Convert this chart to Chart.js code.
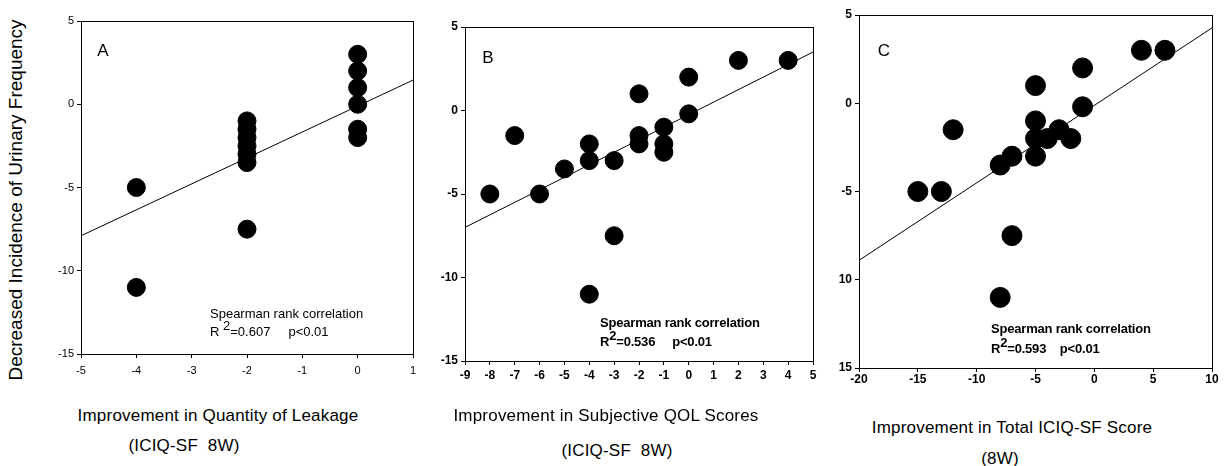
<!DOCTYPE html>
<html>
<head>
<meta charset="utf-8">
<script src="https://cdn.jsdelivr.net/npm/chart.js@4/dist/chart.umd.min.js"></script>
<style>
  body { margin: 0; background: #fff; width: 1224px; height: 466px; position: relative; overflow: hidden; font-family: "Liberation Sans", Arial, sans-serif; color: #000; }
  .panel { position: absolute; }
  .t { position: absolute; white-space: nowrap; line-height: 1; }
  .c { transform: translate(-50%, -50%); }
  .l { transform: translateY(-50%); }
  .title { font-size: 17px; letter-spacing: 0.2px; }
  .note { font-size: 13px; }
  .note sup { font-size: 13px; vertical-align: 6px; line-height: 0; }
  .b { font-weight: bold; letter-spacing: -0.2px; }
</style>
</head>
<body>

<div class="panel" id="pa"><canvas id="chartA"></canvas></div>
<div class="panel" id="pb"><canvas id="chartB"></canvas></div>
<div class="panel" id="pc"><canvas id="chartC"></canvas></div>

<div class="t" style="left:15px; top:200px; font-size:19px; transform:translate(-50%,-50%) rotate(-90deg);">Decreased Incidence of Urinary Frequency</div>

<div class="t c" style="left:103px; top:50px; font-size:17px;">A</div>
<div class="t c" style="left:488px; top:57px; font-size:17px;">B</div>
<div class="t c" style="left:884px; top:50px; font-size:17px;">C</div>

<div class="t l note" style="left:210px; top:313px;">Spearman rank correlation</div>
<div class="t l note" style="left:210px; top:331px;">R <sup>2</sup>=0.607&nbsp;&nbsp;&nbsp;&nbsp;&nbsp;p&lt;0.01</div>
<div class="t l note b" style="left:600px; top:322px;">Spearman rank correlation</div>
<div class="t l note b" style="left:600px; top:341px;">R<sup>2</sup>=0.536&nbsp;&nbsp;&nbsp;&nbsp;&nbsp;p&lt;0.01</div>
<div class="t l note b" style="left:991px; top:328px;">Spearman rank correlation</div>
<div class="t l note b" style="left:991px; top:348px;">R<sup>2</sup>=0.593&nbsp;&nbsp;&nbsp;&nbsp;p&lt;0.01</div>

<div class="t c title" style="left:218px; top:415px;">Improvement in Quantity of Leakage</div>
<div class="t c title" style="left:184px; top:445px;">(ICIQ-SF&nbsp; 8W)</div>
<div class="t c title" style="left:606px; top:415px;">Improvement in Subjective QOL Scores</div>
<div class="t c title" style="left:617px; top:450px;">(ICIQ-SF&nbsp; 8W)</div>
<div class="t c title" style="left:1012px; top:427px;">Improvement in Total ICIQ-SF Score</div>
<div class="t c title" style="left:1000px; top:458px;">(8W)</div>

<script>
// panel A: quantity of leakage
const aX = [-4, -4, -2, -2, -2, -2, -2, -2, -2, 0, 0, 0, 0, 0, 0]
const aY = [-5, -11, -1, -1.5, -2, -2.5, -3, -3.5, -7.5, 3, 2, 1, 0, -1.5, -2]
const aFitX = [-5, 1]
const aFitY = [-7.9, 1.45]
const aXTicks = [-5, -4, -3, -2, -1, 0, 1]

// panel B: subjective QOL
const bX = [-8, -7, -6, -5, -4, -4, -4, -3, -3, -2, -2, -2, -1, -1, -1, 0, 0, 2, 4]
const bY = [-5, -1.5, -5, -3.5, -2, -3, -11, -3, -7.5, 1, -1.5, -2, -1, -2, -2.5, 2, -0.2, 3, 3]
const bFitX = [-9, 5]
const bFitY = [-7.0, 3.5]
const bXTicks = [-9, -8, -7, -6, -5, -4, -3, -2, -1, 0, 1, 2, 3, 4, 5]

// panel C: total ICIQ-SF
const cX = [-15, -13, -12, -8, -8, -7, -7, -5, -5, -5, -5, -4, -3, -2, -1, -1, 4, 6]
const cY = [-5, -5, -1.5, -3.5, -11, -3, -7.5, 1, -1, -2, -3, -2, -1.5, -2, 2, -0.2, 3, 3]
const cFitX = [-20, 10]
const cFitY = [-8.9, 4.27]
const cXTicks = [-20, -15, -10, -5, 0, 5, 10]

const yTicks = [5, 0, -5, -10, -15]
const yLabelsAB = ['5', '0', '-5', '-10', '-15']
const yLabelsC = ['5', '0', '-5', '10', '15']   // minus signs lost in the original print

Chart.defaults.font.family = '"Liberation Sans", Arial, sans-serif'
Chart.defaults.color = '#000'

const frame = {
  id: 'frame',
  afterDraw(chart) {
    const { ctx, chartArea: a } = chart
    ctx.save()
    ctx.strokeStyle = '#000'
    ctx.lineWidth = 1
    ctx.strokeRect(Math.round(a.left) + 0.5, Math.round(a.top) + 0.5, Math.round(a.right - a.left), Math.round(a.bottom - a.top))
    ctx.restore()
  }
}

const PADL = 45, PADT = 12, PADR = 10, PADB = 30

const makePanel = (id, box, xs, ys, fitX, fitY, xTicks, yLabels, radius, bold, xPad) => {
  const holder = document.getElementById(id).parentNode
  const w = box.right - box.left + PADL + PADR
  const h = box.bottom - box.top + PADT + PADB
  holder.style.left = (box.left - PADL) + 'px'
  holder.style.top = (box.top - PADT) + 'px'
  const cv = document.getElementById(id)
  cv.width = w
  cv.height = h
  cv.style.width = w + 'px'
  cv.style.height = h + 'px'

  const tickFont = { size: bold ? 12 : 11, weight: bold ? 'bold' : 'normal' }
  return new Chart(cv, {
    type: 'scatter',
    data: {
      datasets: [
        {
          data: xs.map((x, i) => ({ x: x, y: ys[i] })),
          backgroundColor: '#000',
          borderColor: '#000',
          pointRadius: radius,
          pointHoverRadius: radius
        },
        {
          type: 'line',
          data: fitX.map((x, i) => ({ x: x, y: fitY[i] })),
          borderColor: '#000',
          borderWidth: 1,
          pointRadius: 0,
          fill: false
        }
      ]
    },
    options: {
      responsive: false,
      animation: false,
      layout: { padding: { top: PADT, right: PADR, left: 0, bottom: 0 } },
      plugins: { legend: { display: false }, tooltip: { enabled: false } },
      scales: {
        x: {
          type: 'linear',
          min: xTicks[0],
          max: xTicks[xTicks.length - 1],
          afterBuildTicks: s => { s.ticks = xTicks.map(v => ({ value: v })) },
          afterFit: s => { s.height = PADB },
          ticks: { font: tickFont, padding: xPad, maxRotation: 0, autoSkip: false, callback: v => String(v) },
          grid: { drawOnChartArea: false, drawTicks: true, tickLength: 4, color: '#000' },
          border: { color: '#000' }
        },
        y: {
          type: 'linear',
          min: -15,
          max: 5,
          afterBuildTicks: s => { s.ticks = yTicks.map(v => ({ value: v })) },
          afterFit: s => { s.width = PADL },
          ticks: { font: tickFont, padding: 3, autoSkip: false, callback: (v, i) => yLabels[yTicks.indexOf(v)] },
          grid: { drawOnChartArea: false, drawTicks: true, tickLength: 4, color: '#000' },
          border: { color: '#000' }
        }
      }
    },
    plugins: [frame]
  })
}

makePanel('chartA', { left: 81, right: 413, top: 21, bottom: 354 }, aX, aY, aFitX, aFitY, aXTicks, yLabelsAB, 9, false, 6)
makePanel('chartB', { left: 465, right: 813, top: 27, bottom: 361 }, bX, bY, bFitX, bFitY, bXTicks, yLabelsAB, 9, true, 3)
makePanel('chartC', { left: 859, right: 1213, top: 15, bottom: 368 }, cX, cY, cFitX, cFitY, cXTicks, yLabelsC, 10, true, 0)
</script>
</body>
</html>
